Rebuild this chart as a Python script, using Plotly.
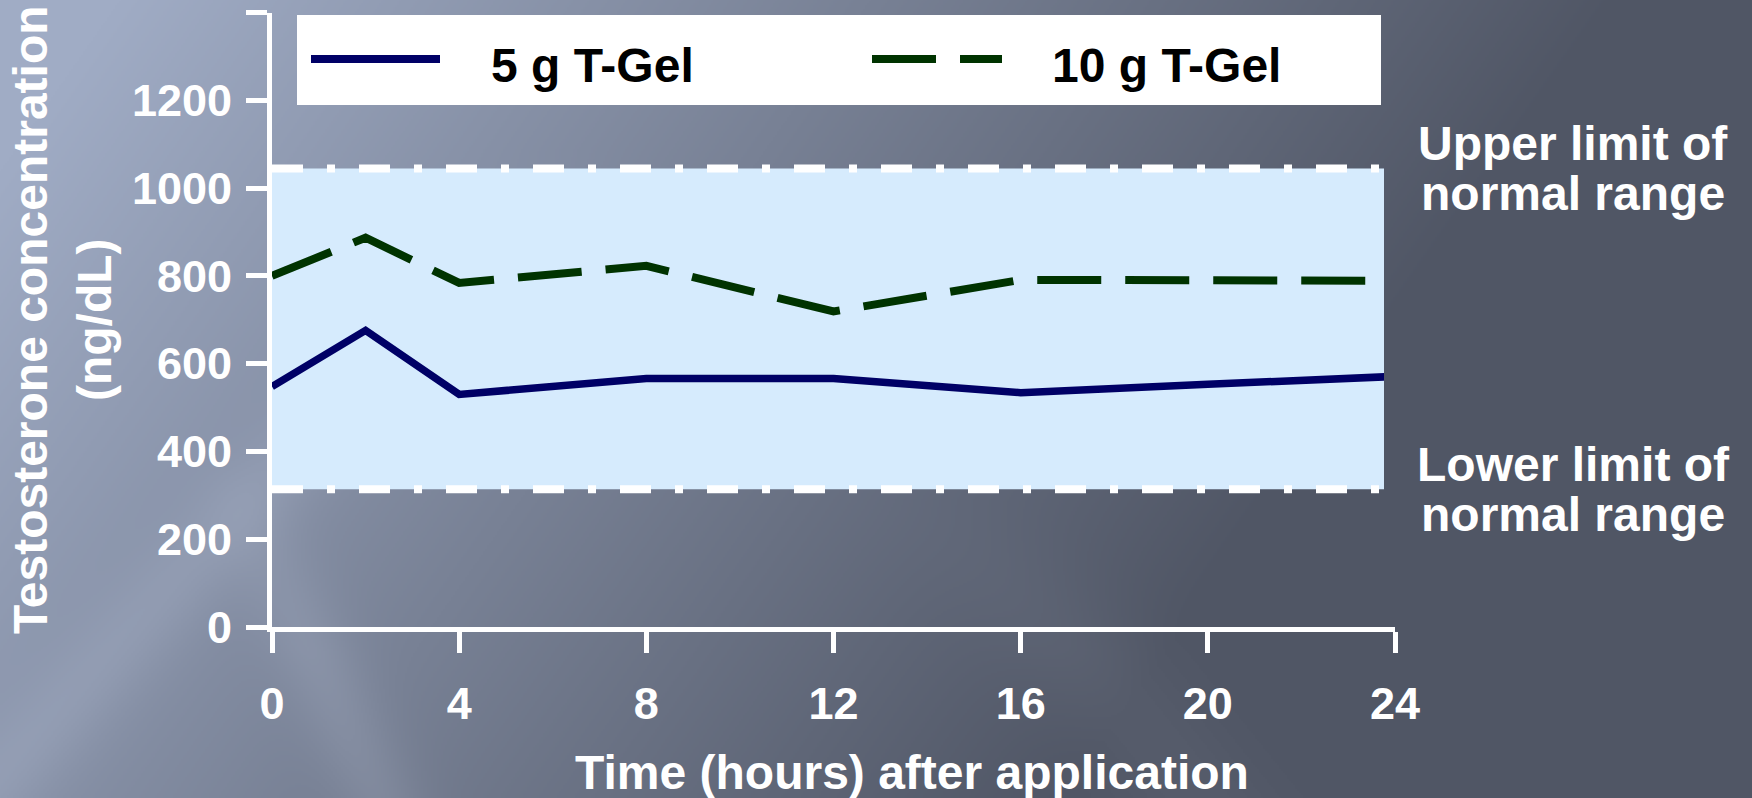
import base64
import struct
import zlib

import numpy as np
import plotly.graph_objects as go

# ---- data -----------------------------------------------------------------
hours = [0, 2, 4, 8, 12, 16, 20, 24]
gel_5g = [548, 676, 530, 566, 566, 534, 553, 571]
gel_10g = [800, 887, 784, 823, 719, 791, 790, 789]
series_names = ["5 g T-Gel", "10 g T-Gel"]

normal_low = 314
normal_high = 1045

x_ticks = [0, 4, 8, 12, 16, 20, 24]
y_ticks = [0, 200, 400, 600, 800, 1000, 1200, 1400]
y_tick_text = ["0", "200", "400", "600", "800", "1000", "1200", ""]

x_title = "Time (hours) after application"
y_title = ["Testosterone concentration", "(ng/dL)"]
upper_label = ["Upper limit of", "normal range"]
lower_label = ["Lower limit of", "normal range"]

# ---- geometry / styling -----------------------------------------------------
W, H = 1752, 798
FONT = "Liberation Sans, Arial, sans-serif"
NAVY = "#000066"
DKGREEN = "#003300"
BAND = "#D6EBFD"
GREEN_DASH = "64px,24px"
LIMIT_DASH = "31px,24px,8px,24px"

AX_LEFT, AX_RIGHT = 272, 1395      # pixel span of the 0..24 h axis
PLOT_RIGHT = 1384                  # the shaded panel stops just short of the axis end
AX_TOP, AX_BOTTOM = 12.6, 627


def px(x):
    return x / W


def py(y):
    return 1 - y / H


def png_uri(img):
    h, w, _ = img.shape
    raw = b"".join(b"\x00" + img[r].tobytes() for r in range(h))

    def chunk(tag, data):
        c = struct.pack(">I", len(data)) + tag + data
        return c + struct.pack(">I", zlib.crc32(tag + data) & 0xFFFFFFFF)

    png = (b"\x89PNG\r\n\x1a\n"
           + chunk(b"IHDR", struct.pack(">IIBBBBB", w, h, 8, 2, 0, 0, 0))
           + chunk(b"IDAT", zlib.compress(raw, 9))
           + chunk(b"IEND", b""))
    return "data:image/png;base64," + base64.b64encode(png).decode()


# slate backdrop: light blue-grey at the upper left fading to dark slate toward
# the lower right, with a few soft diagonal highlights
gh, gw = H // 2, W // 2
yy, xx = np.mgrid[0:gh, 0:gw].astype(float) * 2.0
t = np.clip((xx + 0.7 * yy - 120) / 1500.0, 0, 1)
light = np.array([160, 172, 197], float)
dark = np.array([80, 86, 101], float)
bg = light[None, None, :] * (1 - t[..., None]) + dark[None, None, :] * t[..., None]
streak1 = np.exp(-((xx - 0.45 * yy - 20) / 45.0) ** 2) * np.clip((yy - 450) / 200, 0, 1)
streak2 = np.exp(-((xx + 0.9 * yy - 700) / 60.0) ** 2) * np.clip((yy - 150) / 300, 0, 1)
streak3 = np.exp(-((xx - 0.8 * yy - 560) / 80.0) ** 2) * np.clip((yy - 500) / 150, 0, 1) * 0.6
bg += (streak1 * 12 + streak2 * 10 + streak3 * 10)[..., None]
bg = np.clip(bg, 0, 255).astype(np.uint8)

fig = go.Figure()

# the time axis (x) carries the ticks; it holds no marks of its own
fig.add_trace(go.Scatter(x=[None], y=[None], xaxis="x", yaxis="y", mode="lines",
                         showlegend=False, hoverinfo="skip"))

# curves live on x2, whose plot area ends where the shaded panel ends
fig.add_trace(go.Scatter(x=hours, y=gel_5g, name=series_names[0], mode="lines",
                         xaxis="x2", yaxis="y",
                         line=dict(color=NAVY, width=7.5), showlegend=False))
fig.add_trace(go.Scatter(x=hours, y=gel_10g, name=series_names[1], mode="lines",
                         xaxis="x2", yaxis="y",
                         line=dict(color=DKGREEN, width=8, dash=GREEN_DASH),
                         showlegend=False))

shapes = [
    # normal range band
    dict(type="rect", xref="x2", yref="y", x0=hours[0], x1=hours[-1],
         y0=normal_low, y1=normal_high, fillcolor=BAND, line=dict(width=0),
         layer="below"),
    dict(type="line", xref="x2", yref="y", x0=hours[0], x1=hours[-1],
         y0=normal_high, y1=normal_high,
         line=dict(color="white", width=8, dash=LIMIT_DASH), layer="below"),
    dict(type="line", xref="x2", yref="y", x0=hours[0], x1=hours[-1],
         y0=normal_low, y1=normal_low,
         line=dict(color="white", width=8, dash=LIMIT_DASH), layer="below"),
    # legend box and keys
    dict(type="rect", xref="paper", yref="paper", x0=px(297), x1=px(1381),
         y0=py(105), y1=py(15), fillcolor="white", line=dict(width=0)),
    dict(type="line", xref="paper", yref="paper", x0=px(311), x1=px(440),
         y0=py(59), y1=py(59), line=dict(color=NAVY, width=8)),
    dict(type="line", xref="paper", yref="paper", x0=px(872), x1=px(1002),
         y0=py(59), y1=py(59), line=dict(color=DKGREEN, width=8, dash=GREEN_DASH)),
]

white_font = dict(family=FONT, size=48, color="white", weight="bold")
black_font = dict(family=FONT, size=48, color="black", weight="bold")

annotations = [
    dict(text=series_names[0], xref="paper", yref="paper", x=px(489), y=py(66),
         xanchor="left", yanchor="middle", showarrow=False, font=black_font),
    dict(text=series_names[1], xref="paper", yref="paper", x=px(1050), y=py(66),
         xanchor="left", yanchor="middle", showarrow=False, font=black_font),
    dict(text=x_title, xref="paper", yref="paper", x=px(912), y=py(772),
         xanchor="center", yanchor="middle", showarrow=False, font=white_font),
    dict(text=y_title[0], xref="paper", yref="paper", x=px(30), y=py(320),
         xanchor="center", yanchor="middle", textangle=-90, showarrow=False,
         font=white_font),
    dict(text=y_title[1], xref="paper", yref="paper", x=px(94), y=py(320),
         xanchor="center", yanchor="middle", textangle=-90, showarrow=False,
         font=white_font),
]
for label, level in ((upper_label, normal_high), (lower_label, normal_low)):
    for line_text, shift in zip(label, (25, -25)):
        annotations.append(dict(text=line_text, xref="paper", yref="y", x=px(1573),
                                y=level, yshift=shift, xanchor="center",
                                yanchor="middle", showarrow=False, font=white_font))

axis_common = dict(showline=True, linecolor="white", linewidth=5, ticks="outside",
                   ticklen=21, tickwidth=5, tickcolor="white", showgrid=False,
                   zeroline=False, automargin=False,
                   tickfont=dict(family=FONT, size=45, color="white", weight="bold"))

x_end = x_ticks[-1]
x2_end = x_end * (PLOT_RIGHT - AX_LEFT) / (AX_RIGHT - AX_LEFT)

fig.update_layout(
    width=W, height=H,
    margin=dict(l=0, r=0, t=0, b=0),
    paper_bgcolor="#5a6174",
    plot_bgcolor="rgba(0,0,0,0)",
    hovermode=False,
    xaxis=dict(domain=[px(AX_LEFT), px(AX_RIGHT)], range=[0, x_end], tickvals=x_ticks,
               ticklabelstandoff=12, anchor="y", **axis_common),
    xaxis2=dict(domain=[px(AX_LEFT), px(PLOT_RIGHT)], range=[0, x2_end],
                anchor="y", visible=False, showgrid=False, zeroline=False),
    yaxis=dict(domain=[py(AX_BOTTOM), py(AX_TOP)], range=[0, 1400], tickvals=y_ticks,
               ticktext=y_tick_text, ticklabelstandoff=5, anchor="x", **axis_common),
    shapes=shapes,
    annotations=annotations,
    images=[dict(source=png_uri(bg), xref="paper", yref="paper", x=0, y=1,
                 sizex=1, sizey=1, sizing="stretch", xanchor="left",
                 yanchor="top", layer="below")],
)

fig.write_html("out.html")
